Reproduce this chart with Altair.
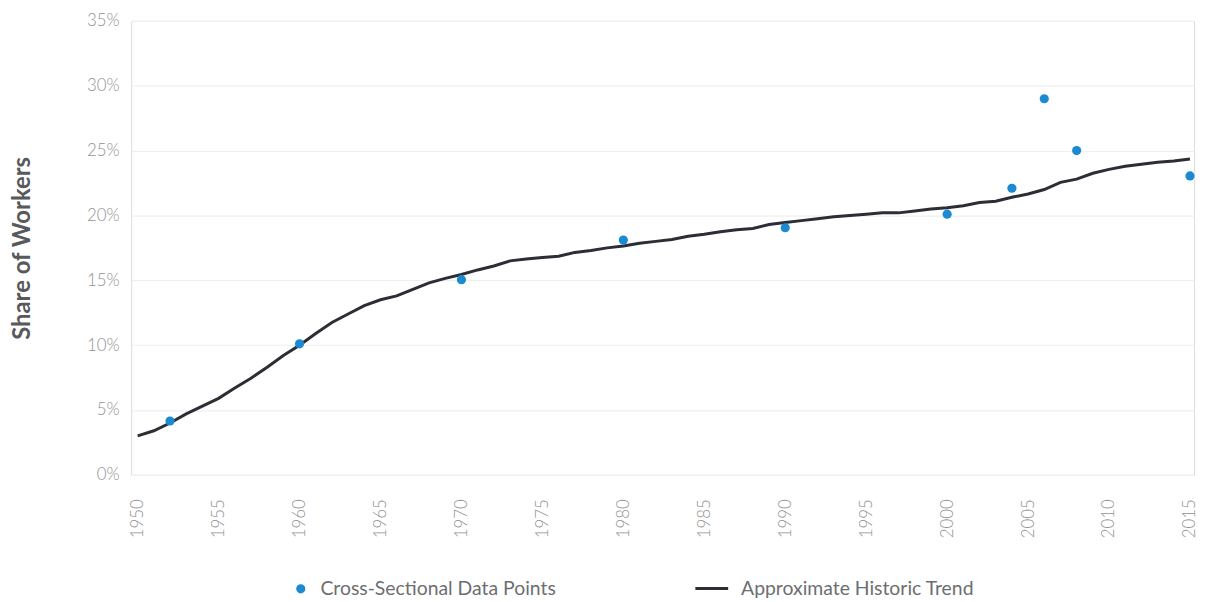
import altair as alt
import pandas as pd

# Cross-sectional data points (year, share of workers in %)
point_years = [1952, 1960, 1970, 1980, 1990, 2000, 2004, 2006, 2008, 2015]
point_values = [4.15, 10.1, 15.05, 18.1, 19.05, 20.1, 22.1, 29.0, 25.0, 23.05]

# Approximate historic trend (annual, %)
trend_years = list(range(1950, 2016))
trend_values = [
    3.0, 3.4, 4.0, 4.7, 5.3, 5.9, 6.7, 7.45, 8.3, 9.2,
    10.0, 10.9, 11.75, 12.4, 13.05, 13.5, 13.8, 14.3, 14.8, 15.15,
    15.45, 15.8, 16.1, 16.5, 16.65, 16.75, 16.85, 17.15, 17.3, 17.5,
    17.65, 17.85, 18.0, 18.15, 18.4, 18.55, 18.75, 18.9, 19.0, 19.3,
    19.45, 19.6, 19.75, 19.9, 20.0, 20.1, 20.2, 20.2, 20.35, 20.5,
    20.6, 20.75, 21.0, 21.1, 21.4, 21.65, 22.0, 22.55, 22.8, 23.25,
    23.55, 23.8, 23.95, 24.1, 24.2, 24.35,
]

series_names = ["Cross-Sectional Data Points", "Approximate Historic Trend"]
x_tick_values = list(range(1950, 2016, 5))
y_tick_values = [0, 5, 10, 15, 20, 25, 30, 35]

BLUE = "#1b8ad0"
DARK = "#2b2e34"
LABEL = "#939393"
FONT = "Lato"

pts = pd.DataFrame({"year": point_years, "value": point_values, "series": series_names[0]})
trend = pd.DataFrame({"year": trend_years, "value": trend_values, "series": series_names[1]})

x_enc = alt.X(
    "year:Q",
    scale=alt.Scale(domain=[1949.6, 2015.25], nice=False, zero=False),
    axis=alt.Axis(
        values=x_tick_values, format="d", labelAngle=-90, title=None,
        grid=False, domain=False, ticks=False, labelPadding=24,
        labelFont=FONT, labelFontWeight=300, labelFontSize=17, labelColor=LABEL,
    ),
)
y_enc = alt.Y(
    "value:Q",
    scale=alt.Scale(domain=[0, 35], nice=False),
    axis=alt.Axis(
        values=y_tick_values, labelExpr="datum.value + '%'", title="Share of Workers",
        grid=True, gridColor="#efefef", gridWidth=1.2, domain=False, ticks=False,
        labelPadding=12, labelFont=FONT, labelFontWeight=300, labelFontSize=17,
        labelColor=LABEL, titleFont=FONT, titleFontWeight="bold", titleFontSize=24,
        titleColor="#58595b", titlePadding=52,
    ),
)

legend_common = dict(
    title=None, orient="none", direction="horizontal", labelLimit=0,
    labelFont=FONT, labelFontSize=19.5, labelColor="#6d6e71", labelFontWeight=400,
)

line = alt.Chart(trend).mark_line(strokeWidth=3).encode(
    x=x_enc,
    y=y_enc,
    stroke=alt.Stroke(
        "series:N",
        scale=alt.Scale(domain=[series_names[1]], range=[DARK]),
        legend=alt.Legend(symbolType="stroke", symbolSize=1090, symbolStrokeWidth=3,
                          symbolStrokeColor=DARK, labelOffset=11, legendX=566, legendY=553,
                          **legend_common),
    ),
)
dots = alt.Chart(pts).mark_circle(size=85, opacity=1).encode(
    x=x_enc,
    y=y_enc,
    color=alt.Color(
        "series:N",
        scale=alt.Scale(domain=[series_names[0]], range=[BLUE]),
        legend=alt.Legend(symbolType="circle", symbolSize=85, symbolOpacity=1,
                          labelOffset=10, legendX=161, legendY=562, **legend_common),
    ),
)

chart = (
    alt.layer(line, dots)
    .properties(width=1070, height=457, padding={"left": 3, "top": 2, "right": 0, "bottom": 0})
    .configure_view(stroke=None)
    .configure(background="white")
)

chart.save("out.html", embed_options={"renderer": "svg", "actions": False})
